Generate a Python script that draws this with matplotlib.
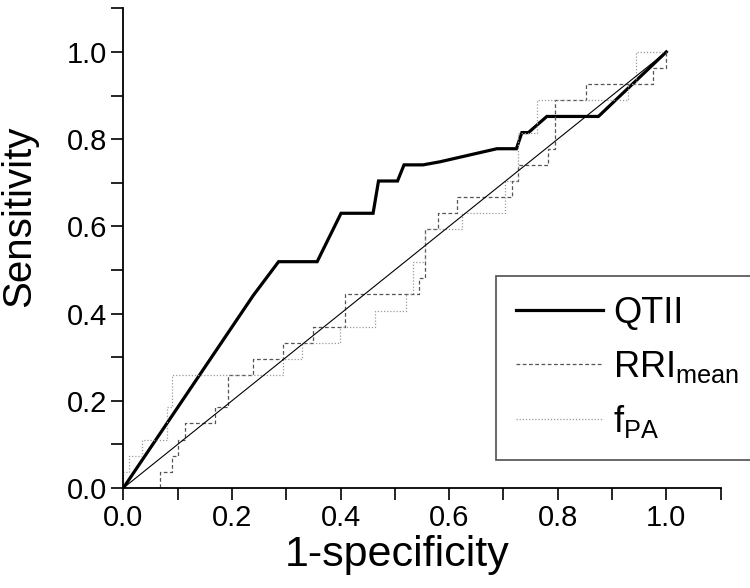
import matplotlib
matplotlib.use('Agg')
import matplotlib.pyplot as plt
from matplotlib import ticker

plt.rcParams['font.family'] = ['Liberation Sans', 'DejaVu Sans']
plt.rcParams['mathtext.default'] = 'regular'

# ROC curves (x = 1-specificity, y = sensitivity)
qtii_x = [0, 0.239, 0.286, 0.357, 0.401, 0.460, 0.470, 0.505, 0.517, 0.552, 0.583, 0.688, 0.724, 0.734, 0.746, 0.780, 0.875, 1.0]
qtii_y = [0, 0.441, 0.519, 0.519, 0.630, 0.630, 0.704, 0.704, 0.741, 0.741, 0.748, 0.778, 0.778, 0.815, 0.815, 0.852, 0.852, 1.0]

# step curves, corner points (drawn with steps-post)
rri_x = [0, 0.068, 0.089, 0.101, 0.114, 0.169, 0.193, 0.239, 0.295, 0.350, 0.408, 0.545, 0.556, 0.580, 0.614, 0.715, 0.726, 0.783, 0.795, 0.853, 0.976, 1.0]
rri_y = [0, 0.037, 0.074, 0.111, 0.148, 0.185, 0.259, 0.296, 0.333, 0.370, 0.444, 0.481, 0.593, 0.630, 0.667, 0.704, 0.741, 0.778, 0.889, 0.926, 0.963, 1.0]

fpa_x = [0, 0, 0.011, 0.034, 0.080, 0.089, 0.295, 0.329, 0.399, 0.464, 0.521, 0.533, 0.556, 0.623, 0.703, 0.726, 0.761, 0.930, 0.944, 1.0]
fpa_y = [0, 0.037, 0.074, 0.111, 0.185, 0.259, 0.296, 0.333, 0.370, 0.407, 0.444, 0.519, 0.593, 0.630, 0.704, 0.815, 0.889, 0.926, 1.0, 1.0]

ref_x = [0, 1]
ref_y = [0, 1]

major_ticks = [0.0, 0.2, 0.4, 0.6, 0.8, 1.0]
minor_ticks = [0.1, 0.3, 0.5, 0.7, 0.9, 1.1]

fig = plt.figure(figsize=(7.5, 5.88), dpi=100)
ax = fig.add_axes([0.1644, 0.170, 0.7964, 0.8159])

l1, = ax.plot(qtii_x, qtii_y, color='black', linewidth=2.3, solid_joinstyle='miter', label='QTII')
l2, = ax.plot(rri_x, rri_y, drawstyle='steps-post', color='#555555', linewidth=0.9,
              dashes=(3, 2), label=r'$RRI_{mean}$')
l3, = ax.plot(fpa_x, fpa_y, drawstyle='steps-post', color='#9a9a9a', linewidth=0.9,
              dashes=(1, 1.5), label=r'$f_{PA}$')
ax.plot(ref_x, ref_y, color='black', linewidth=0.8)

ax.set_xlim(0, 1.1)
ax.set_ylim(0, 1.1)
for a in (ax.xaxis, ax.yaxis):
    a.set_major_locator(ticker.FixedLocator(major_ticks))
    a.set_minor_locator(ticker.FixedLocator(minor_ticks))
    a.set_major_formatter(ticker.FormatStrFormatter('%.1f'))

ax.spines['top'].set_visible(False)
ax.spines['right'].set_visible(False)
for s in ('left', 'bottom'):
    ax.spines[s].set_linewidth(1.3)
ax.tick_params(which='both', direction='out', length=8.5, width=1.2, color='black')
ax.tick_params(axis='x', which='major', labelsize=21, pad=3)
ax.tick_params(axis='y', which='major', labelsize=21, pad=3)

ax.set_xlabel('1-specificity', fontsize=31)
ax.set_ylabel('Sensitivity', fontsize=29)
ax.xaxis.set_label_coords(0.458, -0.098)
ax.yaxis.set_label_coords(-0.142, 0.567)

leg = fig.legend(handles=[l1, l2, l3], loc='upper left', bbox_to_anchor=(496 / 750, 1 - 276 / 588),
                 fontsize=26, frameon=True, fancybox=False, handlelength=2.4, handletextpad=0.3,
                 labelspacing=0.5, borderpad=0.55, borderaxespad=0)
leg.get_frame().set_edgecolor('#333333')
leg.get_frame().set_linewidth(1.3)

fig.savefig('out.png', dpi=100)
